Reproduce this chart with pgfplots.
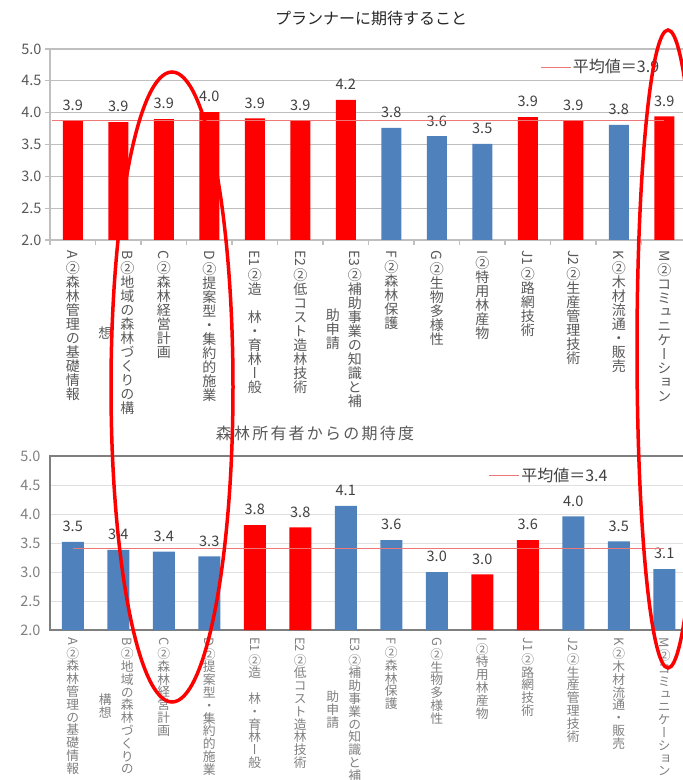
\documentclass[border=0pt]{standalone}
\usepackage{fontspec}
\setmainfont{Noto Sans CJK JP}
\newfontfamily\vjp[RawFeature=+vert]{Noto Sans CJK JP}
\usepackage{graphicx}
\usepackage{pgfplots}
\pgfplotsset{compat=1.18}
\definecolor{xred}{HTML}{FF0000}
\definecolor{xblue}{HTML}{4F81BD}
\definecolor{avgred}{HTML}{EE7777}
\definecolor{g26}{HTML}{262626}
\definecolor{g40}{HTML}{404040}
\definecolor{g59}{HTML}{595959}
\definecolor{g7f}{HTML}{808080}
\definecolor{gridA}{HTML}{BFBFBF}
\definecolor{gridB}{HTML}{E0E0E0}
\definecolor{axB}{HTML}{7F7F7F}

\ExplSyntaxOn
\NewDocumentCommand\vcol{m m}{
  \vbox{\offinterlineskip
    \tl_if_blank:nF {#1}{
      \hbox~to~1.1em{\hss\rotatebox{-90}{#1}\hss}
      \kern0.15em
    }
    \tl_map_inline:nn {#2}{
      \hbox~to~1.1em{\hss\raisebox{0pt}[0.88em][0.12em]{\vjp ##1}\hss}
    }
  }
}
\ExplSyntaxOff

\tikzset{
  labA/.style={anchor=north, inner sep=0pt, text=g59, font=\fontsize{14}{14}\selectfont},
  labB/.style={anchor=north, inner sep=0pt, text=g7f, font=\fontsize{12.8}{12.8}\selectfont},
}
\newcommand\clab[5]{\node[#1] at ([yshift=#2]axis cs:#3,2) {\vcol{#4}{#5}};}
\newcommand\clabb[6]{\node[#1] (tmp) at ([xshift=9pt,yshift=#2]axis cs:#3,2) {\vcol{#4}{#5}};
  \node[#1, anchor=center] at ([xshift=-22pt]tmp.center) {\vcol{}{#6}};}

\pgfplotsset{
  common/.style={
    scale only axis, anchor=south west,
    width=637pt, xmin=-0.5, xmax=13.5, ymin=2, ymax=5,
    ybar, bar shift=0pt,
    clip mode=individual,
    ytick={2,2.5,3,3.5,4,4.5,5},
    ymajorgrids,
    yticklabel style={font=\fontsize{14.5}{14.5}\selectfont, text=g59},
    /pgf/number format/fixed, /pgf/number format/fixed zerofill,
    /pgf/number format/precision=1, /pgf/number format/assume math mode=true,
    every node near coord/.append style={font=\fontsize{14.5}{14.5}\selectfont, text=g40, yshift=6.5pt},
    legend style={draw=none, fill=none, inner sep=0pt, font=\fontsize{16}{16}\selectfont, text=g40,
      legend cell align=left, /tikz/every even column/.append style={column sep=3pt}},
  },
}

\begin{document}
\begin{tikzpicture}[x=1pt,y=1pt]
% ---------------- top chart ----------------
\begin{axis}[common,
  at={(50pt,540pt)}, height=191pt, bar width=20pt,
  axis x line*=bottom, axis y line*=left,
  axis line style={gridA, line width=1.2pt, -},
  xtick={-0.5,0.5,1.5,2.5,3.5,4.5,5.5,6.5,7.5,8.5,9.5,10.5,11.5,12.5,13.5}, xticklabels={},
  tick align=outside, major tick length=5pt,
  tick style={gridA, line width=1.2pt},
  grid style={gridA, line width=1.2pt},
  yticklabel style={xshift=0pt},
  legend style={at={(0.769,0.906)}, anchor=west},
]
\addplot[fill=xred, draw=none, forget plot, nodes near coords, point meta=explicit symbolic]
  table[x=x, y=y, meta=lab] {
x y lab
0 3.88 3.9
1 3.85 3.9
2 3.90 3.9
3 4.01 4.0
4 3.91 3.9
5 3.88 3.9
6 4.20 4.2
10 3.93 3.9
11 3.87 3.9
13 3.94 3.9
};
\addplot[fill=xblue, draw=none, forget plot, nodes near coords, point meta=explicit symbolic]
  table[x=x, y=y, meta=lab] {
x y lab
7 3.76 3.8
8 3.63 3.6
9 3.51 3.5
12 3.81 3.8
};
\addplot[sharp plot, avgred, line width=0.9pt, mark=none,
  legend image code/.code={\draw[avgred, line width=0.9pt] (0pt,0pt) -- (30pt,0pt);}]
  coordinates {(-0.45,3.87) (13,3.87)};
\addlegendentry{平均値＝3.9}
\clab{labA}{-10pt}{0}{A}{②森林管理の基礎情報}
\clabb{labA}{-10pt}{1}{B}{②地域の森林づくりの構}{想}
\clab{labA}{-10pt}{2}{C}{②森林経営計画}
\clab{labA}{-10pt}{3}{D}{②提案型・集約的施業}
\clab{labA}{-10pt}{4}{E1}{②造{}林・育林ー般}
\clab{labA}{-10pt}{5}{E2}{②低コスト造林技術}
\clabb{labA}{-10pt}{6}{E3}{②補助事業の知識と補}{助申請}
\clab{labA}{-10pt}{7}{F}{②森林保護}
\clab{labA}{-10pt}{8}{G}{②生物多様性}
\clab{labA}{-10pt}{9}{I}{②特用林産物}
\clab{labA}{-10pt}{10}{J1}{②路網技術}
\clab{labA}{-10pt}{11}{J2}{②生産管理技術}
\clab{labA}{-10pt}{12}{K}{②木材流通・販売}
\clab{labA}{-10pt}{13}{M}{②コミュニケーション}
\end{axis}
% ---------------- bottom chart ----------------
\begin{axis}[common,
  at={(50pt,150pt)}, height=174pt, bar width=22pt,
  axis line style={axB, line width=1.4pt},
  xtick=\empty, major tick length=0pt,
  grid style={gridB, line width=1pt},
  yticklabel style={xshift=-6pt, text=g7f},
  legend style={at={(0.688,0.89)}, anchor=west},
]
\addplot[fill=xblue, draw=none, forget plot, nodes near coords, point meta=explicit symbolic]
  table[x=x, y=y, meta=lab] {
x y lab
0 3.52 3.5
1 3.38 3.4
2 3.35 3.4
3 3.27 3.3
6 4.14 4.1
7 3.55 3.6
8 3.00 3.0
11 3.96 4.0
12 3.53 3.5
13 3.05 3.1
};
\addplot[fill=xred, draw=none, forget plot, nodes near coords, point meta=explicit symbolic]
  table[x=x, y=y, meta=lab] {
x y lab
4 3.81 3.8
5 3.77 3.8
9 2.96 3.0
10 3.55 3.6
};
\addplot[sharp plot, avgred, line width=0.9pt, mark=none,
  legend image code/.code={\draw[avgred, line width=0.9pt] (0pt,0pt) -- (30pt,0pt);}]
  coordinates {(0,3.40) (13,3.40)};
\addlegendentry{平均値＝3.4}
\clab{labB}{-7pt}{0}{A}{②森林管理の基礎情報}
\clabb{labB}{-7pt}{1}{B}{②地域の森林づくりの}{構想}
\clab{labB}{-7pt}{2}{C}{②森林経営計画}
\clab{labB}{-7pt}{3}{D}{②提案型・集約的施業}
\clab{labB}{-7pt}{4}{E1}{②造{}林・育林ー般}
\clab{labB}{-7pt}{5}{E2}{②低コスト造林技術}
\clabb{labB}{-7pt}{6}{E3}{②補助事業の知識と補}{助申請}
\clab{labB}{-7pt}{7}{F}{②森林保護}
\clab{labB}{-7pt}{8}{G}{②生物多様性}
\clab{labB}{-7pt}{9}{I}{②特用林産物}
\clab{labB}{-7pt}{10}{J1}{②路網技術}
\clab{labB}{-7pt}{11}{J2}{②生産管理技術}
\clab{labB}{-7pt}{12}{K}{②木材流通・販売}
\clab{labB}{-7pt}{13}{M}{②コミュニケーション}
\end{axis}
% titles
\node[font=\fontsize{16}{16}\selectfont, text=g26] at (371pt,761.5pt) {プランナーに期待すること};
\node[font=\fontsize{16}{16}\selectfont\addfontfeatures{LetterSpace=14}, text=g59] at (315pt,347pt) {森林所有者からの期待度};
% hand-drawn annotation ellipses
\draw[xred, line width=3.5pt] (172pt,393pt) ellipse [x radius=61pt, y radius=315pt];
\draw[xred, line width=3.5pt] (668pt,431pt) ellipse [x radius=31pt, y radius=319pt];
\pgfresetboundingbox
\useasboundingbox (0pt,0pt) rectangle (683pt,780pt);
\end{tikzpicture}
\end{document}
